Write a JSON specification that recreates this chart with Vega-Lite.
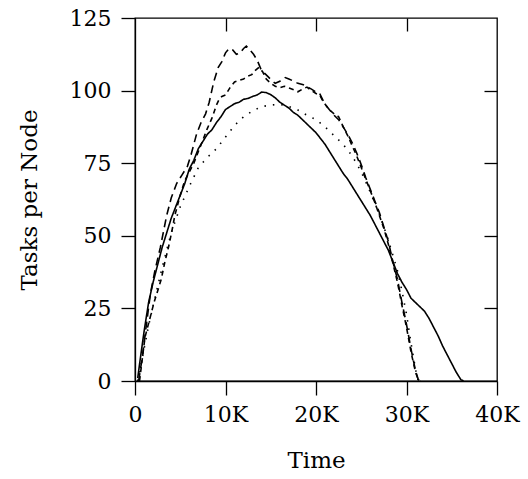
{
  "$schema": "https://vega.github.io/schema/vega-lite/v6.json",
  "width": 362,
  "height": 363,
  "autosize": {"type": "none"},
  "padding": {"left": 135, "top": 18, "right": 31, "bottom": 98},
  "background": "white",
  "config": {
    "view": {"stroke": "black", "strokeWidth": 1.3},
    "font": "DejaVu Serif",
    "axis": {
      "grid": false,
      "domainColor": "black",
      "tickColor": "black",
      "labelColor": "black",
      "titleColor": "black",
      "labelFont": "DejaVu Serif",
      "titleFont": "DejaVu Serif",
      "labelFontSize": 22,
      "titleFontSize": 23,
      "titleFontWeight": "normal",
      "tickSize": 14,
      "domainWidth": 1.3,
      "tickWidth": 1.3,
      "labelFlush": false
    }
  },
  "datasets": {
    "curves": [
      {"s":"S","t":0.3,"v":1},{"s":"S","t":0.6,"v":8},{"s":"S","t":1,"v":17},{"s":"S","t":1.5,"v":27},{"s":"S","t":2,"v":34},{"s":"S","t":2.5,"v":40},{"s":"S","t":3,"v":46},{"s":"S","t":3.5,"v":51},{"s":"S","t":4,"v":56},{"s":"S","t":4.5,"v":60},{"s":"S","t":5,"v":64},{"s":"S","t":5.5,"v":68},{"s":"S","t":6,"v":73},{"s":"S","t":6.5,"v":76},{"s":"S","t":7,"v":80},{"s":"S","t":7.5,"v":82.5},{"s":"S","t":8,"v":85},{"s":"S","t":8.5,"v":86.5},{"s":"S","t":9,"v":89},{"s":"S","t":9.5,"v":91},{"s":"S","t":10,"v":93.5},{"s":"S","t":10.5,"v":94.5},{"s":"S","t":11,"v":95.5},{"s":"S","t":11.5,"v":96},{"s":"S","t":12,"v":97},{"s":"S","t":12.5,"v":97.3},{"s":"S","t":13,"v":98},{"s":"S","t":13.5,"v":98.5},{"s":"S","t":14,"v":99.5},{"s":"S","t":14.5,"v":99.3},{"s":"S","t":15,"v":98.6},{"s":"S","t":15.5,"v":97.5},{"s":"S","t":16,"v":96},{"s":"S","t":16.5,"v":95},{"s":"S","t":17,"v":94},{"s":"S","t":17.5,"v":92.5},{"s":"S","t":18,"v":91.5},{"s":"S","t":18.5,"v":90},{"s":"S","t":19,"v":88.5},{"s":"S","t":19.5,"v":87},{"s":"S","t":20,"v":85.5},{"s":"S","t":20.5,"v":83.5},{"s":"S","t":21,"v":81.5},{"s":"S","t":21.5,"v":79},{"s":"S","t":22,"v":76.5},{"s":"S","t":22.5,"v":74},{"s":"S","t":23,"v":71.5},{"s":"S","t":23.5,"v":69.5},{"s":"S","t":24,"v":67},{"s":"S","t":24.5,"v":64.5},{"s":"S","t":25,"v":62},{"s":"S","t":25.5,"v":59.5},{"s":"S","t":26,"v":57},{"s":"S","t":26.5,"v":54},{"s":"S","t":27,"v":51},{"s":"S","t":27.5,"v":48},{"s":"S","t":28,"v":45},{"s":"S","t":28.5,"v":41},{"s":"S","t":29,"v":37},{"s":"S","t":29.5,"v":34},{"s":"S","t":30,"v":31.5},{"s":"S","t":30.5,"v":28.5},{"s":"S","t":31,"v":27},{"s":"S","t":31.5,"v":25.5},{"s":"S","t":32,"v":24},{"s":"S","t":32.5,"v":21.5},{"s":"S","t":33,"v":18.5},{"s":"S","t":33.5,"v":15.5},{"s":"S","t":34,"v":12},{"s":"S","t":34.5,"v":9},{"s":"S","t":35,"v":6},{"s":"S","t":35.5,"v":3},{"s":"S","t":36,"v":0.5},{"s":"S","t":36.3,"v":0},
      {"s":"D","t":0.3,"v":0},{"s":"D","t":1,"v":11},{"s":"D","t":1.5,"v":19},{"s":"D","t":2,"v":26},{"s":"D","t":3,"v":39},{"s":"D","t":4,"v":51},{"s":"D","t":5,"v":60},{"s":"D","t":6,"v":67},{"s":"D","t":7,"v":73.5},{"s":"D","t":8,"v":77},{"s":"D","t":9,"v":80},{"s":"D","t":10,"v":84},{"s":"D","t":11,"v":88},{"s":"D","t":12,"v":91},{"s":"D","t":13,"v":93},{"s":"D","t":14,"v":94.5},{"s":"D","t":15,"v":95},{"s":"D","t":16,"v":95.3},{"s":"D","t":17,"v":94.5},{"s":"D","t":18,"v":93.3},{"s":"D","t":19,"v":91.5},{"s":"D","t":20,"v":90},{"s":"D","t":21,"v":87.5},{"s":"D","t":22,"v":84.5},{"s":"D","t":23,"v":81.5},{"s":"D","t":24,"v":77.5},{"s":"D","t":25,"v":72},{"s":"D","t":26,"v":65},{"s":"D","t":27,"v":57.5},{"s":"D","t":28,"v":48.5},{"s":"D","t":29,"v":38},{"s":"D","t":29.5,"v":31},{"s":"D","t":30,"v":23},{"s":"D","t":30.5,"v":13},{"s":"D","t":31,"v":4},{"s":"D","t":31.3,"v":0},
      {"s":"A","t":0.4,"v":0},{"s":"A","t":0.8,"v":8},{"s":"A","t":1.2,"v":18},{"s":"A","t":1.7,"v":30},{"s":"A","t":2.2,"v":38},{"s":"A","t":2.8,"v":46},{"s":"A","t":3.5,"v":57},{"s":"A","t":4,"v":63},{"s":"A","t":4.6,"v":68},{"s":"A","t":5.2,"v":71},{"s":"A","t":5.8,"v":74},{"s":"A","t":6.2,"v":78},{"s":"A","t":6.8,"v":85},{"s":"A","t":7.3,"v":89},{"s":"A","t":7.8,"v":92},{"s":"A","t":8.2,"v":96},{"s":"A","t":8.7,"v":103},{"s":"A","t":9.2,"v":108},{"s":"A","t":9.6,"v":110},{"s":"A","t":10,"v":113},{"s":"A","t":10.4,"v":114.5},{"s":"A","t":10.8,"v":114},{"s":"A","t":11.2,"v":112.5},{"s":"A","t":11.6,"v":113},{"s":"A","t":12,"v":114.5},{"s":"A","t":12.3,"v":115.3},{"s":"A","t":12.7,"v":114},{"s":"A","t":13.1,"v":112.5},{"s":"A","t":13.5,"v":110.5},{"s":"A","t":13.9,"v":107.5},{"s":"A","t":14.3,"v":106},{"s":"A","t":14.7,"v":104.8},{"s":"A","t":15.1,"v":103.5},{"s":"A","t":15.5,"v":102.5},{"s":"A","t":16,"v":103.2},{"s":"A","t":16.6,"v":104.5},{"s":"A","t":17,"v":104},{"s":"A","t":17.5,"v":103.3},{"s":"A","t":18,"v":102.5},{"s":"A","t":18.6,"v":102},{"s":"A","t":19,"v":101.3},{"s":"A","t":19.5,"v":100.5},{"s":"A","t":20,"v":99.5},{"s":"A","t":20.4,"v":99},{"s":"A","t":20.8,"v":96.5},{"s":"A","t":21.2,"v":94.5},{"s":"A","t":21.6,"v":93},{"s":"A","t":22,"v":91.5},{"s":"A","t":22.5,"v":90},{"s":"A","t":23,"v":87.5},{"s":"A","t":23.5,"v":85},{"s":"A","t":24,"v":82},{"s":"A","t":24.5,"v":78.5},{"s":"A","t":25,"v":74.5},{"s":"A","t":25.5,"v":70},{"s":"A","t":26,"v":66},{"s":"A","t":26.5,"v":62},{"s":"A","t":27,"v":58},{"s":"A","t":27.5,"v":53},{"s":"A","t":28,"v":48},{"s":"A","t":28.5,"v":41},{"s":"A","t":29,"v":35},{"s":"A","t":29.5,"v":27},{"s":"A","t":30,"v":19.5},{"s":"A","t":30.5,"v":11},{"s":"A","t":31,"v":3.5},{"s":"A","t":31.3,"v":0.5},{"s":"A","t":31.5,"v":0},
      {"s":"B","t":0.5,"v":0},{"s":"B","t":1.1,"v":15},{"s":"B","t":1.6,"v":21},{"s":"B","t":2.1,"v":27},{"s":"B","t":2.9,"v":35},{"s":"B","t":3.3,"v":41},{"s":"B","t":3.7,"v":46},{"s":"B","t":4.1,"v":52},{"s":"B","t":4.4,"v":57},{"s":"B","t":5,"v":64},{"s":"B","t":5.5,"v":69},{"s":"B","t":6,"v":72},{"s":"B","t":6.5,"v":75},{"s":"B","t":7,"v":79},{"s":"B","t":7.5,"v":83},{"s":"B","t":8,"v":87},{"s":"B","t":8.5,"v":90.5},{"s":"B","t":9,"v":95},{"s":"B","t":9.3,"v":97},{"s":"B","t":9.6,"v":98},{"s":"B","t":10,"v":98.5},{"s":"B","t":10.5,"v":101},{"s":"B","t":11,"v":103},{"s":"B","t":11.5,"v":103.5},{"s":"B","t":12,"v":104},{"s":"B","t":12.5,"v":105},{"s":"B","t":12.9,"v":105.5},{"s":"B","t":13.3,"v":107},{"s":"B","t":13.7,"v":108},{"s":"B","t":14.1,"v":106.5},{"s":"B","t":14.5,"v":104},{"s":"B","t":15,"v":102.5},{"s":"B","t":15.5,"v":101.5},{"s":"B","t":16,"v":101},{"s":"B","t":16.5,"v":101.5},{"s":"B","t":17.1,"v":100.8},{"s":"B","t":17.6,"v":100.2},{"s":"B","t":18,"v":99.6},{"s":"B","t":18.5,"v":100.5},{"s":"B","t":19,"v":101.2},{"s":"B","t":19.5,"v":100},{"s":"B","t":20,"v":99},{"s":"B","t":20.4,"v":98.5},{"s":"B","t":20.8,"v":96.2},{"s":"B","t":21.5,"v":93.3},{"s":"B","t":22,"v":92},{"s":"B","t":22.5,"v":91},{"s":"B","t":23,"v":87.6},{"s":"B","t":23.5,"v":84.5},{"s":"B","t":24,"v":81},{"s":"B","t":24.5,"v":77.5},{"s":"B","t":25,"v":73.5},{"s":"B","t":25.5,"v":69.5},{"s":"B","t":26,"v":65.5},{"s":"B","t":26.5,"v":61.5},{"s":"B","t":27,"v":57},{"s":"B","t":27.5,"v":52.5},{"s":"B","t":28,"v":47},{"s":"B","t":28.5,"v":40.5},{"s":"B","t":29,"v":34},{"s":"B","t":29.5,"v":26},{"s":"B","t":30,"v":18.5},{"s":"B","t":30.5,"v":10},{"s":"B","t":31,"v":3},{"s":"B","t":31.3,"v":0.5},{"s":"B","t":31.5,"v":0}
    ]
  },
  "data": {"name": "curves"},
  "layer": [
    {
      "mark": {"type": "line", "strokeWidth": 1.6, "color": "black"},
      "encoding": {
        "x": {"field": "t", "type": "quantitative", "scale": {"domain": [0, 40], "nice": false},
              "axis": {"title": "Time", "values": [0, 10, 20, 30, 40], "labelExpr": "datum.value == 0 ? '0' : datum.value + 'K'", "labelPadding": 9, "titlePadding": 24, "tickSize": 14}},
        "y": {"field": "v", "type": "quantitative", "scale": {"domain": [0, 125], "nice": false},
              "axis": {"title": "Tasks per Node", "values": [0, 25, 50, 75, 100, 125], "labelPadding": 10, "titlePadding": 28, "tickSize": 14}},
        "strokeDash": {"field": "s", "type": "nominal", "scale": {"domain": ["S", "D", "A", "B"], "range": [[1, 0], [1.5, 7], [8, 5], [5, 4]]}, "legend": null},
        "order": {"field": "t", "type": "quantitative"}
      }
    },
    {
      "mark": {"type": "line", "opacity": 0},
      "encoding": {
        "x": {"field": "t", "type": "quantitative", "scale": {"domain": [0, 40], "nice": false},
              "axis": {"orient": "top", "labels": false, "title": null, "values": [10, 20, 30], "tickSize": -13, "domain": false}},
        "y": {"field": "v", "type": "quantitative", "scale": {"domain": [0, 125], "nice": false},
              "axis": {"orient": "right", "labels": false, "title": null, "values": [25, 50, 75, 100], "tickSize": -13, "domain": false}},
        "detail": {"field": "s"}
      }
    }
  ],
  "resolve": {"axis": {"x": "independent", "y": "independent"}}
}
